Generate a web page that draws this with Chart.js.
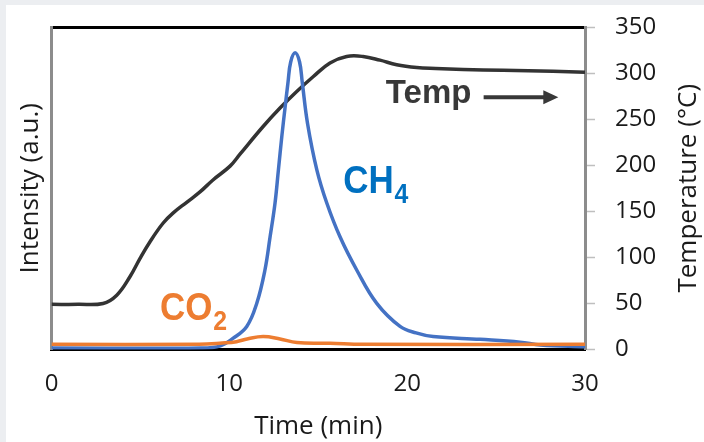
<!DOCTYPE html>
<html>
<head>
<meta charset="utf-8">
<title>TPD profile</title>
<script src="https://cdn.jsdelivr.net/npm/chart.js@4.4.1/dist/chart.umd.min.js"></script>
<style>
  html, body { margin: 0; padding: 0; background: #eceef1; }
  #wrap { width: 704px; height: 442px; }
</style>
</head>
<body>
<div id="wrap"><canvas id="tpd" width="704" height="442"></canvas></div>
<script>
// axis ticks
const timeTicks = [0, 10, 20, 30];
const tempTicks = [0, 50, 100, 150, 200, 250, 300, 350];

// furnace temperature (°C) vs time (min)
const tempTime = [0, 1.5, 2.9, 3.67, 4.41, 4.98, 5.54, 6.27, 6.83, 7.62, 8.35, 9.08, 10.04, 10.6, 11.9, 12.85, 13.79, 14.71, 15.66, 16.6, 17.52, 18.47, 19.41, 20.54, 21.6, 23.14, 25.4, 28.2, 30];
const tempValues = [49, 49, 50, 59, 79, 99, 117, 137, 148, 160, 171, 184, 199, 212, 242, 262, 280, 296, 311, 318, 318, 314, 309, 306, 305, 304, 303, 302, 301];

// CH4 signal (a.u.)
const ch4Time = [0, 8.4, 9.5, 10.2, 10.98, 11.54, 12.0, 12.29, 12.57, 12.76, 12.95, 13.13, 13.3, 13.45, 13.7, 13.95, 14.1, 14.4, 14.92, 15.48, 16.23, 17.17, 18.29, 19.6, 20.5, 21.46, 24.1, 26.35, 27.5, 30];
const ch4Values = [1.6, 1.6, 4, 12, 25, 50, 86, 122, 159, 195, 231, 262, 290, 312, 322, 312, 290, 245, 195, 159, 122, 86, 50, 25, 18, 14, 11, 8, 5, 3];

// CO2 signal (a.u.)
const co2Time = [0, 8.3, 9.6, 10.4, 11.0, 11.9, 12.85, 13.8, 15.66, 17.5, 30];
const co2Values = [5.6, 5.6, 7, 8.5, 11.4, 14, 11.4, 7.5, 6.8, 5.6, 5.6];

const pairs = (xs, ys) => xs.map((x, i) => ({ x, y: ys[i] }));

const TICK_FONT = { family: "'Open Sans'", size: 24 };
const TITLE_FONT = { family: "'Open Sans'", size: 26 };
const LABEL_FAMILY = "'Liberation Sans', Arial, sans-serif";

const panel = {
  id: "panel",
  beforeDraw(chart) {
    const { ctx, width, height } = chart;
    ctx.save();
    ctx.fillStyle = "#eceef1";
    ctx.fillRect(0, 0, width, height);
    ctx.fillStyle = "#ffffff";
    ctx.fillRect(6, 5, width - 6, height - 5);
    ctx.restore();
  }
};

function drawFormula(ctx, px, py, main, sub, color) {
  ctx.save();
  ctx.translate(px, py);
  ctx.scale(0.92, 1);
  ctx.fillStyle = color;
  ctx.textBaseline = "alphabetic";
  ctx.textAlign = "left";
  ctx.font = "bold 38px " + LABEL_FAMILY;
  ctx.fillText(main, 0, 0);
  const w = ctx.measureText(main).width;
  ctx.font = "bold 27px " + LABEL_FAMILY;
  ctx.fillText(sub, w + 1, 10);
  ctx.restore();
}

const labels = {
  id: "labels",
  afterDraw(chart) {
    const { ctx, chartArea, scales: { x, yT } } = chart;
    ctx.save();

    // right axis title, reading bottom to top like the left one
    ctx.translate(689, (chartArea.top + chartArea.bottom) / 2);
    ctx.rotate(-Math.PI / 2);
    ctx.fillStyle = "#1a1a1a";
    ctx.font = "26px 'Open Sans'";
    ctx.textAlign = "center";
    ctx.textBaseline = "middle";
    ctx.fillText("Temperature (°C)", 0, 0);
    ctx.restore();

    ctx.save();
    // Temp label with arrow towards the right axis
    ctx.fillStyle = "#383838";
    ctx.font = "bold 33px " + LABEL_FAMILY;
    ctx.textBaseline = "alphabetic";
    ctx.fillText("Temp", x.getPixelForValue(18.8), yT.getPixelForValue(267));

    const ay = yT.getPixelForValue(273.7);
    const ax0 = x.getPixelForValue(24.3);
    const ax1 = x.getPixelForValue(28.5);
    ctx.strokeStyle = "#383838";
    ctx.lineWidth = 4;
    ctx.beginPath();
    ctx.moveTo(ax0, ay);
    ctx.lineTo(ax1 - 12, ay);
    ctx.stroke();
    ctx.beginPath();
    ctx.moveTo(ax1, ay);
    ctx.lineTo(ax1 - 15, ay - 7);
    ctx.lineTo(ax1 - 15, ay + 7);
    ctx.closePath();
    ctx.fill();

    drawFormula(ctx, x.getPixelForValue(16.4), yT.getPixelForValue(170), "CH", "4", "#0070c0");
    drawFormula(ctx, x.getPixelForValue(6.1), yT.getPixelForValue(32), "CO", "2", "#ed7d31");

    ctx.restore();
  }
};

const lineStyle = {
  pointRadius: 0,
  borderWidth: 3.5,
  tension: 0.4,
  fill: false
};

new Chart(document.getElementById("tpd"), {
  type: "line",
  data: {
    datasets: [
      { ...lineStyle, label: "CO2", data: pairs(co2Time, co2Values), borderColor: "#ed7d31", yAxisID: "yI" },
      { ...lineStyle, label: "CH4", data: pairs(ch4Time, ch4Values), borderColor: "#4472c4", yAxisID: "yI" },
      { ...lineStyle, label: "Temp", data: pairs(tempTime, tempValues), borderColor: "#333333", yAxisID: "yT" }
    ]
  },
  options: {
    responsive: false,
    animation: false,
    events: [],
    layout: { padding: { top: 27, left: 0, right: 0, bottom: 0 } },
    plugins: {
      legend: { display: false },
      tooltip: { enabled: false }
    },
    scales: {
      x: {
        type: "linear",
        position: "bottom",
        min: 0,
        max: 30,
        afterBuildTicks: s => { s.ticks = timeTicks.map(v => ({ value: v })); },
        afterFit: s => { s.height = 92.5; },
        grid: { display: false, drawTicks: false },
        border: { color: "#000000", width: 3 },
        ticks: { color: "#1a1a1a", font: TICK_FONT, padding: 20, maxRotation: 0 },
        title: { display: true, text: "Time (min)", color: "#1a1a1a", font: TITLE_FONT, padding: { top: 0, bottom: 0 } }
      },
      xTop: {
        type: "linear",
        position: "top",
        min: 0,
        max: 30,
        afterFit: s => { s.height = 0; },
        grid: { display: false, drawTicks: false },
        border: { color: "#000000", width: 3 },
        ticks: { display: false }
      },
      yI: {
        type: "linear",
        position: "left",
        min: 0,
        max: 350,
        afterFit: s => { s.width = 51.5; s.paddingTop = 0; s.paddingBottom = 0; },
        grid: { display: false, drawTicks: false },
        border: { color: "#8c8c8c", width: 3 },
        ticks: { display: false },
        title: { display: true, text: "Intensity (a.u.)", color: "#1a1a1a", font: TITLE_FONT, padding: { top: 15, bottom: 0 } }
      },
      yT: {
        type: "linear",
        position: "right",
        min: 0,
        max: 350,
        afterBuildTicks: s => { s.ticks = tempTicks.map(v => ({ value: v })); },
        afterFit: s => { s.width = 119; s.paddingTop = 0; s.paddingBottom = 0; },
        grid: { drawOnChartArea: false, drawTicks: true, tickLength: 10, tickColor: "#bfbfbf", tickWidth: 1.5 },
        border: { color: "#8c8c8c", width: 3 },
        ticks: { color: "#1a1a1a", font: TICK_FONT, padding: 20 },
        title: { display: false }
      }
    }
  },
  plugins: [panel, labels]
});
</script>
</body>
</html>
